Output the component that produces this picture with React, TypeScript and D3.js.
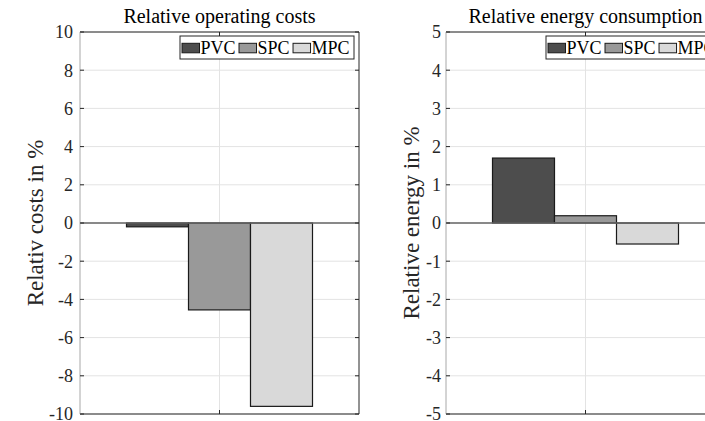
import React from "react";
import * as d3 from "d3";

const series = ["PVC", "SPC", "MPC"];
const seriesColors = ["#4d4d4d", "#999999", "#d9d9d9"];
const costValues = [-0.2, -4.55, -9.6];
const energyValues = [1.7, 0.19, -0.55];
const costTicks = [-10, -8, -6, -4, -2, 0, 2, 4, 6, 8, 10];
const energyTicks = [-5, -4, -3, -2, -1, 0, 1, 2, 3, 4, 5];

const FONT = "'Liberation Serif', 'Times New Roman', serif";
const W = 705;
const H = 421;

// Times / Liberation Serif advance widths (em) for legend layout
const GLYPH_EM: Record<string, number> = { P: 0.556, V: 0.722, C: 0.667, S: 0.556, M: 0.889 };
function textWidth(s: string, size: number) {
  let w = 0;
  for (const ch of s) w += GLYPH_EM[ch] ?? 0.6;
  return w * size;
}

type PanelProps = {
  x0: number;
  x1: number;
  title: string;
  ylabel: string;
  ylabelX: number;
  values: number[];
  ticks: number[];
  domain: [number, number];
  labelGap: number;
};

function Panel({ x0, x1, title, ylabel, ylabelX, values, ticks, domain, labelGap }: PanelProps) {
  const y0 = 32;
  const y1 = 414;
  const y = d3.scaleLinear().domain(domain).range([y1, y0]);
  const x = d3.scaleLinear().domain([0.25, 1.75]).range([x0, x1]);
  const groupW = x(1.5) - x(0.5);
  const band = d3
    .scaleBand<string>()
    .domain(series)
    .range([x(1) - groupW / 2, x(1) + groupW / 2])
    .padding(0);
  const cx = x(1);
  const axisColor = "#262626";
  const tickLen = 4;

  // legend
  const legFont = 18;
  const legW = 174;
  const legH = 23;
  const legX = x1 - 5 - legW;
  const legY = 36;
  let cursor = legX + 2;
  const items = series.map((s, i) => {
    const item = { s, i, sx: cursor, tx: cursor + 18.5 };
    cursor += 18.5 + textWidth(s, legFont) + 3.5;
    return item;
  });

  return (
    <g>
      {/* grid */}
      {ticks.map((t) => (
        <line key={"g" + t} x1={x0} x2={x1} y1={y(t)} y2={y(t)} stroke="#e3e3e3" strokeWidth={1} />
      ))}
      <line x1={cx} x2={cx} y1={y0} y2={y1} stroke="#e3e3e3" strokeWidth={1} />
      {/* bars */}
      {values.map((v, i) => {
        const bx = band(series[i]) as number;
        const top = Math.min(y(v), y(0));
        const h = Math.abs(y(v) - y(0));
        return (
          <rect
            key={"b" + i}
            x={bx}
            y={top}
            width={band.bandwidth()}
            height={h}
            fill={seriesColors[i]}
            stroke="#1a1a1a"
            strokeWidth={1.2}
          />
        );
      })}
      {/* baseline */}
      <line x1={x0} x2={x1} y1={y(0)} y2={y(0)} stroke="#666666" strokeWidth={1.3} />
      {/* axes box */}
      <line x1={x0} x2={x1} y1={y0} y2={y0} stroke={axisColor} strokeWidth={1} />
      <line x1={x0} x2={x1} y1={y1} y2={y1} stroke={axisColor} strokeWidth={1.2} />
      <line x1={x1} x2={x1} y1={y0} y2={y1} stroke={axisColor} strokeWidth={1} />
      <line x1={x0} x2={x0} y1={y0} y2={y1} stroke="#a8a8a8" strokeWidth={1} />
      {/* ticks */}
      {ticks.map((t) => (
        <g key={"t" + t}>
          <line x1={x0} x2={x0 + tickLen} y1={y(t)} y2={y(t)} stroke={axisColor} />
          <line x1={x1} x2={x1 - tickLen} y1={y(t)} y2={y(t)} stroke={axisColor} />
          <text
            x={x0 - labelGap}
            y={y(t)}
            dy="0.35em"
            textAnchor="end"
            fontFamily={FONT}
            fontSize={18}
            fill="#262626"
          >
            {t}
          </text>
        </g>
      ))}
      <line x1={cx} x2={cx} y1={y1} y2={y1 - tickLen} stroke={axisColor} />
      <line x1={cx} x2={cx} y1={y0} y2={y0 + tickLen} stroke={axisColor} />
      {/* title */}
      <text x={cx} y={23} textAnchor="middle" fontFamily={FONT} fontSize={20} fill="#000">
        {title}
      </text>
      {/* ylabel */}
      <text
        transform={`translate(${ylabelX},${(y0 + y1) / 2}) rotate(-90)`}
        textAnchor="middle"
        dy="0.35em"
        fontFamily={FONT}
        fontSize={23}
        fill="#262626"
      >
        {ylabel}
      </text>
      {/* legend */}
      <rect x={legX} y={legY} width={legW} height={legH} fill="#fff" stroke="#262626" strokeWidth={1} />
      {items.map((it) => (
        <g key={"l" + it.s}>
          <rect
            x={it.sx}
            y={legY + 7.3}
            width={17.5}
            height={9.5}
            fill={seriesColors[it.i]}
            stroke="#1a1a1a"
            strokeWidth={1}
          />
          <text x={it.tx} y={legY + 18} fontFamily={FONT} fontSize={legFont} fill="#000">
            {it.s}
          </text>
        </g>
      ))}
    </g>
  );
}

export default function App() {
  return (
    <svg
      width={W}
      height={H}
      style={{ position: "absolute", left: 0, top: 0, background: "#fff" }}
    >
      <rect width={W} height={H} fill="#fff" />
      <Panel
        x0={80}
        x1={359}
        title="Relative operating costs"
        ylabel="Relativ costs in %"
        ylabelX={35}
        values={costValues}
        ticks={costTicks}
        domain={[-10, 10]}
        labelGap={7}
      />
      <Panel
        x0={446}
        x1={725}
        title="Relative energy consumption"
        ylabel="Relative energy in %"
        ylabelX={411}
        values={energyValues}
        ticks={energyTicks}
        domain={[-5, 5]}
        labelGap={5}
      />
    </svg>
  );
}
